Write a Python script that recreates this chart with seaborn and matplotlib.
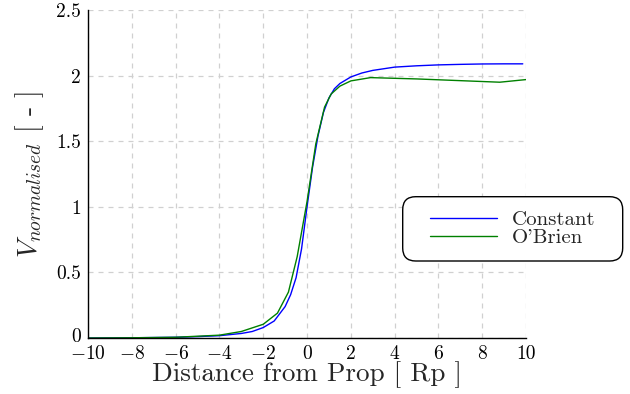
import numpy as np
import pandas as pd
import seaborn as sns
import matplotlib.pyplot as plt
from matplotlib.patches import FancyBboxPatch
from matplotlib.transforms import IdentityTransform, ScaledTranslation

# distance from propeller [Rp] and normalised velocity
x_constant = [-10, -8, -6, -5, -4, -3, -2.5, -2, -1.5, -1, -0.75, -0.5, -0.25,
              0, 0.25, 0.5, 0.75, 1, 1.25, 1.5, 2, 2.5, 3, 4, 5, 6, 7, 8, 9, 9.85]
v_constant = [0.0, 0.002, 0.006, 0.011, 0.018, 0.035, 0.05, 0.08, 0.13, 0.24,
              0.33, 0.46, 0.68, 1.0, 1.3, 1.54, 1.72, 1.83, 1.9, 1.94, 1.99,
              2.02, 2.04, 2.065, 2.075, 2.082, 2.086, 2.089, 2.09, 2.09]

x_obrien = [-10, -8, -6, -4, -3, -2, -1.35, -0.85, -0.45, 0, 0.4, 0.8, 1.1,
            1.5, 2, 2.9, 5, 8.8, 10]
v_obrien = [0.0, 0.002, 0.006, 0.022, 0.05, 0.105, 0.19, 0.35, 0.62, 1.04,
            1.48, 1.76, 1.86, 1.92, 1.96, 1.985, 1.975, 1.95, 1.97]

series_names = ["Constant", "O'Brien"]
xticks = [-10, -8, -6, -4, -2, 0, 2, 4, 6, 8, 10]
yticks = [0, 0.5, 1, 1.5, 2, 2.5]
ytick_labels = ["0", "0.5", "1", "1.5", "2", "2.5"]

df = pd.concat([
    pd.DataFrame({"x": x_constant, "v": v_constant, "model": series_names[0]}),
    pd.DataFrame({"x": x_obrien, "v": v_obrien, "model": series_names[1]}),
])

sns.set_style("white")
plt.rcParams["font.family"] = "serif"
plt.rcParams["font.serif"] = ["cmr10"]
plt.rcParams["mathtext.fontset"] = "cm"
plt.rcParams["axes.formatter.use_mathtext"] = True

fig = plt.figure(figsize=(6.3, 3.94), dpi=100)
ax = fig.add_axes([0.1397, 0.142, 0.6953, 0.8325])

sns.lineplot(data=df, x="x", y="v", hue="model", hue_order=series_names,
             palette=["#0000ff", "#008000"], linewidth=1.0, ax=ax,
             estimator=None, sort=False)

ax.set_xlim(-10, 10)
ax.set_ylim(0, 2.5)
ax.set_xticks(xticks)
ax.set_xticklabels([r"$%d$" % t if t < 0 else str(t) for t in xticks])
ax.set_yticks(yticks)
ax.set_yticklabels(ytick_labels)
ax.grid(True, color="#d0d0d0", linestyle=(0, (4, 4)), linewidth=0.9)
for s in ["top", "right"]:
    ax.spines[s].set_visible(False)
for s in ["left", "bottom"]:
    ax.spines[s].set_color("black")
    ax.spines[s].set_linewidth(1.0)
ax.tick_params(direction="in", length=4, width=0.8, labelsize=14, pad=5,
               colors="black")
ax.tick_params(axis="y", pad=5)

# nudge the y "0" up a touch so it clears the "-10" below it
zero_label = ax.yaxis.get_major_ticks()[0].label1
zero_label.set_transform(zero_label.get_transform()
                         + ScaledTranslation(0, 2.5 / 72, fig.dpi_scale_trans))

ax.set_xlabel("Distance from Prop [ Rp ]", fontsize=19.5, labelpad=-1)
ax.set_ylabel(r"$V_{normalised}$ [ - ]", fontsize=20, labelpad=7)

# legend: rounded box drawn in pixels, entries centred in it
handles, labels = ax.get_legend_handles_labels()
ax.get_legend().remove()
box = FancyBboxPatch((402.7, 133.0), 220.0, 64.3,
                     boxstyle="round,pad=0,rounding_size=13",
                     transform=IdentityTransform(), facecolor="white",
                     edgecolor="black", linewidth=1.0, zorder=5)
fig.add_artist(box)
fig.legend(handles, labels, loc="center",
           bbox_to_anchor=((402.7 + 110) / 630, (133.0 + 32.15) / 394),
           fontsize=15, handlelength=3.2, handletextpad=0.72,
           labelspacing=0.0, borderpad=0, frameon=False).set_zorder(6)

fig.savefig("out.png", dpi=100)
